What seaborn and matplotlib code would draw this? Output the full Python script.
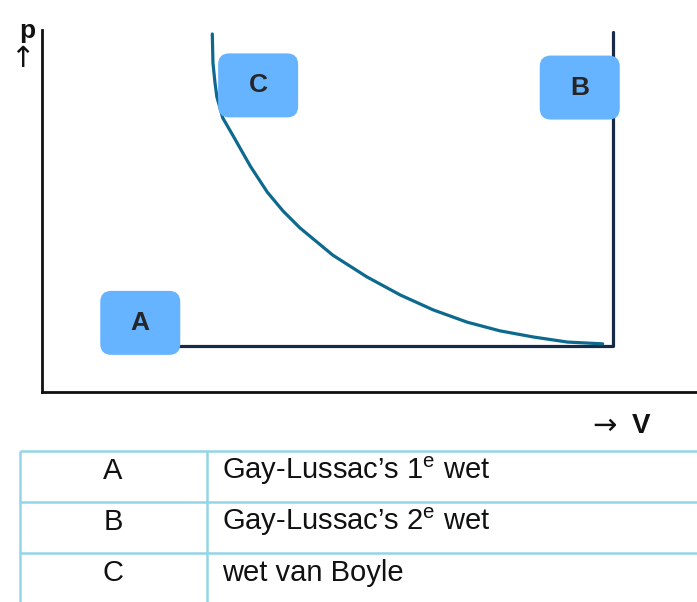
import matplotlib
matplotlib.use("Agg")
import matplotlib.pyplot as plt
from matplotlib.patches import FancyBboxPatch
import seaborn as sns
import pandas as pd

# Boyle curve (wet van Boyle), V and p in arbitrary units
boyle_v = [2.60, 2.61, 2.64, 2.67, 2.76, 2.92, 3.18, 3.44, 3.68, 3.94, 4.44,
           4.96, 5.47, 5.97, 6.49, 6.99, 7.50, 8.02, 8.56]
boyle_p = [9.89, 9.09, 8.56, 8.15, 7.57, 7.07, 6.24, 5.52, 5.00, 4.53, 3.78,
           3.18, 2.68, 2.27, 1.93, 1.69, 1.52, 1.38, 1.33]

# isobar (A) and isochore (B)
lussac_v = [1.50, 8.72, 8.72]
lussac_p = [1.27, 1.27, 9.94]

# labels of the boxes and where they sit (V, p of box centre)
box_labels = ["A", "B", "C"]
box_v = [1.50, 8.21, 3.30]
box_p = [1.91, 8.41, 8.47]

table_keys = ["A", "B", "C"]
table_laws = ["Gay-Lussac\u2019s 1$^{\\mathrm{e}}$ wet",
              "Gay-Lussac\u2019s 2$^{\\mathrm{e}}$ wet",
              "wet van Boyle"]

sns.set_style("white")
plt.rcParams["font.family"] = ["Liberation Sans", "DejaVu Sans"]
plt.rcParams["mathtext.fontset"] = "custom"
plt.rcParams["mathtext.rm"] = "Liberation Sans"

W, H = 697, 602
fig = plt.figure(figsize=(W / 100, H / 100), dpi=100)

ax = fig.add_axes([42 / W, 1 - 392 / H, 655 / W, 362 / H])
ax.set_xlim(0, 10)
ax.set_ylim(0, 10)

df_boyle = pd.DataFrame({"V": boyle_v, "p": boyle_p})
df_lussac = pd.DataFrame({"V": lussac_v, "p": lussac_p})
sns.lineplot(data=df_lussac, x="V", y="p", sort=False, estimator=None,
             color="#172a47", lw=2.3, ax=ax, zorder=2)
sns.lineplot(data=df_boyle, x="V", y="p", sort=False, estimator=None,
             color="#0d6a8e", lw=2.3, ax=ax, zorder=3)

# rounded label boxes, 80x64 px
px_x = 655 / 10
px_y = 362 / 10
bw, bh = 80 / px_x, 64 / px_y
for lab, v, p in zip(box_labels, box_v, box_p):
    box = FancyBboxPatch((v - bw / 2, p - bh / 2), bw, bh,
                         boxstyle="round,pad=0,rounding_size=%f" % (11 / px_x),
                         mutation_aspect=px_x / px_y,
                         fc="#66b3ff", ec="none", zorder=4)
    ax.add_patch(box)
    ax.text(v, p, lab, ha="center", va="center", fontsize=19,
            fontweight="bold", color="#262626", zorder=5)

for s in ["top", "right"]:
    ax.spines[s].set_visible(False)
for s in ["left", "bottom"]:
    ax.spines[s].set_color("#111111")
    ax.spines[s].set_linewidth(2.0)
ax.set_xticks([])
ax.set_yticks([])
ax.set_xlabel("")
ax.set_ylabel("")

# axis names with arrows
fig.text(27 / W, 1 - 31 / H, "p", ha="center", va="center",
         fontsize=19, fontweight="bold", color="#111111")
fig.text(22 / W, 1 - 59 / H, "\u2191", ha="center", va="center",
         fontsize=21, color="#111111", family="DejaVu Sans")
fig.text(605 / W, 1 - 426 / H, "\u2192", ha="center", va="center",
         fontsize=21, color="#111111", family="DejaVu Sans")
fig.text(641 / W, 1 - 426 / H, "V", ha="center", va="center",
         fontsize=20, fontweight="bold", color="#111111")

# table below the diagram
tab = fig.add_axes([0, 0, 1, 162 / H])
tab.set_xlim(0, W)
tab.set_ylim(602, 440)
tab.axis("off")
grid_col = "#92d5e8"
row_tops = [451, 502, 553]
for y in row_tops:
    tab.plot([20, W], [y, y], color=grid_col, lw=1.8, solid_capstyle="butt")
for x in [20, 207]:
    tab.plot([x, x], [451, 602], color=grid_col, lw=1.8, solid_capstyle="butt")
for y, key, law in zip(row_tops, table_keys, table_laws):
    tab.text(113, y + 20, key, ha="center", va="center", fontsize=21,
             color="#111111")
    tab.text(222, y + 20, law, ha="left", va="center", fontsize=21,
             color="#111111")

fig.savefig("out.png", dpi=100)
